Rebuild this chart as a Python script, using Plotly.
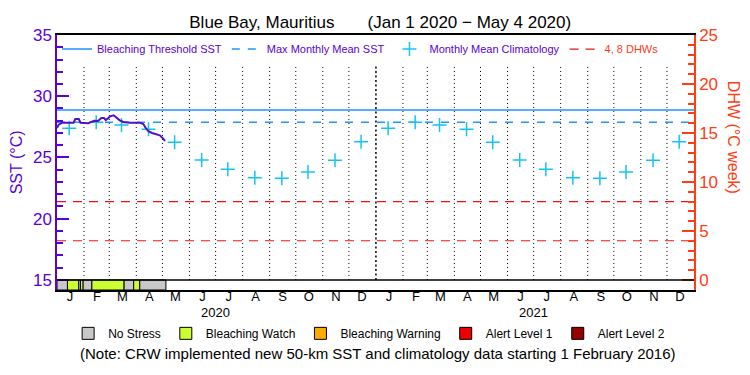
import plotly.graph_objects as go
import pandas as pd

# ---------------- data ----------------
sst_dates = ["2020-01-01", "2020-01-03", "2020-01-07", "2020-01-20", "2020-01-22", "2020-01-26",
             "2020-01-28", "2020-02-04", "2020-02-06", "2020-02-10", "2020-02-13", "2020-02-17",
             "2020-02-21", "2020-02-24", "2020-02-26", "2020-02-29", "2020-03-02", "2020-03-06",
             "2020-03-10", "2020-03-13", "2020-03-17", "2020-03-25", "2020-04-05", "2020-04-09",
             "2020-04-12", "2020-04-15", "2020-04-19", "2020-04-24", "2020-04-28", "2020-05-01",
             "2020-05-03", "2020-05-04"]
sst_values = [27.40, 27.68, 27.84, 27.84, 28.14, 28.14,
              27.84, 27.84, 27.79, 27.92, 28.00, 27.98,
              28.22, 28.22, 28.05, 28.22, 28.36, 28.44,
              28.22, 28.03, 27.90, 27.84, 27.84, 27.73,
              27.40, 27.14, 27.00, 26.92, 26.81, 26.60,
              26.45, 26.35]

clim_months = ["J", "F", "M", "A", "M", "J", "J", "A", "S", "O", "N", "D"]
clim_values = [27.38, 27.87, 27.65, 27.30, 26.24, 24.80, 24.03, 23.35, 23.30, 23.82, 24.77, 26.29]
years = [2020, 2021]

mmm = 27.87
bleaching_threshold = 28.87
dhw_levels = [4, 8]

stress_start = ["2020-01-01", "2020-01-13", "2020-01-26", "2020-01-28", "2020-01-31",
                "2020-02-10", "2020-03-18", "2020-03-29", "2020-04-05"]
stress_end = ["2020-01-13", "2020-01-26", "2020-01-28", "2020-01-31", "2020-02-10",
              "2020-03-18", "2020-03-29", "2020-04-05", "2020-05-05"]
stress_level = ["No Stress", "Bleaching Watch", "No Stress", "Bleaching Watch", "No Stress",
                "Bleaching Watch", "No Stress", "Bleaching Watch", "No Stress"]

stress_names = ["No Stress", "Bleaching Watch", "Bleaching Warning", "Alert Level 1", "Alert Level 2"]
stress_colors = ["#c8c8c8", "#ccff33", "#ffaa00", "#ee0000", "#960000"]

# ---------------- styling ----------------
PURPLE = "#5a00d8"
LINEPURPLE = "#5010c8"
ORANGE = "#ff3c14"
BLUE = "#1e96ff"
CYAN = "#14c3f5"
RED = "#e81414"
FONT = "Liberation Sans Narrow, Liberation Sans, sans-serif"

y_lo, y_hi = 14.18, 35.0
y2_lo = (y_lo - 15) * 1.25
y2_hi = 25.0
x0, x1 = "2020-01-01", "2022-01-01"

fig = go.Figure()

# month boundary dotted lines
bounds = pd.date_range("2020-02-01", "2021-12-01", freq="MS")
vx, vy, bx, by = [], [], [], []
for d in bounds:
    if d == pd.Timestamp("2021-01-01"):
        bx += [d, d, None]
        by += [15, 32.55, None]
    else:
        vx += [d, d, None]
        vy += [15, 32.55, None]
fig.add_trace(go.Scatter(x=vx, y=vy, mode="lines", line=dict(color="black", width=1, dash="1px,3px"),
                         showlegend=False, hoverinfo="skip"))
fig.add_trace(go.Scatter(x=bx, y=by, mode="lines", line=dict(color="black", width=1.5, dash="2px,2.5px"),
                         showlegend=False, hoverinfo="skip"))

# stress bar
s0 = pd.to_datetime(stress_start)
s1 = pd.to_datetime(stress_end)
widths = [(b - a).total_seconds() * 1000 for a, b in zip(s0, s1)]
cmap = dict(zip(stress_names, stress_colors))
fig.add_trace(go.Bar(x=s0, y=[15 - y_lo] * len(s0), base=y_lo, width=widths, offset=0,
                     marker=dict(color=[cmap[s] for s in stress_level], line=dict(color="black", width=1)),
                     showlegend=False, hoverinfo="skip"))

# threshold
fig.add_trace(go.Scatter(x=[x0, x1], y=[bleaching_threshold] * 2, mode="lines",
                         line=dict(color=BLUE, width=1.5),
                         name="Bleaching Threshold SST", legend="legend"))
fig.add_trace(go.Scatter(x=[x0, x1], y=[mmm] * 2, mode="lines",
                         line=dict(color=BLUE, width=1.5, dash="8px,8px"),
                         name="Max Monthly Mean SST", legend="legend"))

# climatology crosses
cx, cy = [], []
for yr in years:
    for m in range(12):
        cx.append(pd.Timestamp(year=yr, month=m + 1, day=15))
        cy.append(clim_values[m])
fig.add_trace(go.Scatter(x=cx, y=cy, mode="markers",
                         marker=dict(symbol="cross-thin", size=10, line=dict(color=CYAN, width=1.5)),
                         name="Monthly Mean Climatology", legend="legend"))

# DHW lines
dx, dy = [], []
for lv in dhw_levels:
    dx += [x0, x1, None]
    dy += [lv, lv, None]
fig.add_trace(go.Scatter(x=dx, y=dy, yaxis="y2", mode="lines",
                         line=dict(color=RED, width=1.2, dash="9px,7px"),
                         name=f'<span style="color:{ORANGE}">4, 8 DHWs</span>', legend="legend"))

# SST line
fig.add_trace(go.Scatter(x=pd.to_datetime(sst_dates), y=sst_values, mode="lines",
                         line=dict(color=LINEPURPLE, width=2), showlegend=False))

# stress legend entries
for nm, col in zip(stress_names, stress_colors):
    fig.add_trace(go.Bar(x=[None], y=[None], name=nm, marker=dict(color=col, line=dict(color="black", width=1)),
                         legend="legend2"))

# x ticks
tickvals, ticktext = [], []
for yr in years:
    for m in range(12):
        tickvals.append(pd.Timestamp(year=yr, month=m + 1, day=16))
        ticktext.append(clim_months[m])

fig.update_layout(
    width=750, height=375,
    margin=dict(l=57, r=56, t=35, b=85, autoexpand=False),
    paper_bgcolor="white", plot_bgcolor="white",
    font=dict(family=FONT, color="black"),
    barmode="overlay",
    title=dict(text="Blue Bay, Mauritius       (Jan 1 2020 \u2212 May 4 2020)", x=0.507, xanchor="center",
               y=0.942, yanchor="middle", font=dict(size=17, color="black", family=FONT)),
    xaxis=dict(type="date", range=[x0, x1], tickvals=tickvals, ticktext=ticktext, ticks="",
               showgrid=False, showline=True, linecolor="black", linewidth=1.5, mirror=True,
               tickfont=dict(size=13, color="black"), zeroline=False, automargin=False, ticklabelstandoff=-6),
    yaxis=dict(range=[y_lo, y_hi], tickvals=[15, 20, 25, 30, 35], ticks="inside", ticklen=12,
               tickwidth=1.5, tickcolor=PURPLE, showgrid=False, zeroline=False,
               showline=True, linecolor=PURPLE, linewidth=1.5, automargin=False,
               tickfont=dict(size=17, color=PURPLE),
               minor=dict(tickvals=list(range(15, 36)), ticks="inside", ticklen=6, tickcolor=PURPLE, tickwidth=1.5)),
    yaxis2=dict(range=[y2_lo, y2_hi], overlaying="y", side="right", tickvals=[0, 5, 10, 15, 20, 25],
                ticks="inside", ticklen=12, tickwidth=1.5, tickcolor=ORANGE, showgrid=False, zeroline=False,
                showline=True, linecolor=ORANGE, linewidth=1.5, automargin=False,
                tickfont=dict(size=17, color=ORANGE),
                minor=dict(tickvals=list(range(0, 26)), ticks="inside", ticklen=6, tickcolor=ORANGE, tickwidth=1.5)),
    legend=dict(orientation="h", x=0.0, y=0.945, xanchor="left", yanchor="middle",
                font=dict(size=11, color=PURPLE, family=FONT), bgcolor="rgba(0,0,0,0)",
                itemwidth=30, tracegroupgap=0),
    legend2=dict(orientation="h", x=0.49, y=-0.17, xanchor="center", yanchor="middle",
                 font=dict(size=12, color="black", family=FONT), bgcolor="rgba(0,0,0,0)",
                 itemwidth=30),
    showlegend=True,
)

fig.add_shape(type="line", xref="paper", x0=0, x1=1, yref="y", y0=15, y1=15,
              line=dict(color="black", width=1.5))

for yr in years:
    fig.add_annotation(x=pd.Timestamp(year=yr, month=7, day=1), xref="x", y=-0.09, yref="paper",
                       text=str(yr), showarrow=False, font=dict(size=13, color="black"), yanchor="middle")

fig.add_annotation(x=0.504, xref="paper", y=-0.25, yref="paper", xanchor="center", yanchor="middle",
                   text="(Note: CRW implemented new 50-km SST and climatology data starting 1 February 2016)",
                   showarrow=False, font=dict(size=15, color="black"))
fig.add_annotation(x=-0.063, xref="paper", y=0.5, yref="paper", text="SST (\u00b0C)", textangle=-90,
                   showarrow=False, font=dict(size=16, color=PURPLE), xanchor="center", yanchor="middle")
fig.add_annotation(x=1.063, xref="paper", y=0.6, yref="paper", text="DHW (\u00b0C week)", textangle=90,
                   showarrow=False, font=dict(size=16, color=ORANGE), xanchor="center", yanchor="middle")

fig.write_html("out.html", config={"displayModeBar": False},
               post_script="document.body.style.margin='0';document.body.style.overflow='hidden';")
